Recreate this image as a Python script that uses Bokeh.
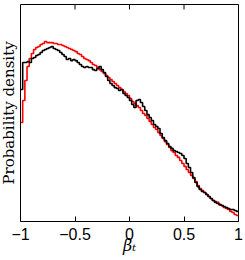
import numpy as np
from bokeh.plotting import figure
from bokeh.models import Range1d, FixedTicker
from bokeh.embed import file_html
from bokeh.resources import INLINE

# ---- data ----
x_min, x_max, n_bins = -1.0, 1.0, 100
x_ticks = [-1, -0.5, 0, 0.5, 1]
x_tick_labels = ["\u22121", "\u22120.5", "0", "0.5", "1"]
y_max = 1.2056

red_density = [
    0.550, 0.672, 0.783, 0.861, 0.906, 0.933, 0.956, 0.967, 0.972, 0.983,
    0.989, 1.000, 0.994, 0.994, 0.994, 0.989, 0.989, 0.983, 0.983, 0.978,
    0.972, 0.967, 0.961, 0.956, 0.950, 0.944, 0.933, 0.928, 0.917, 0.906,
    0.900, 0.894, 0.883, 0.872, 0.867, 0.856, 0.844, 0.833, 0.822, 0.811,
    0.800, 0.789, 0.778, 0.767, 0.756, 0.744, 0.733, 0.722, 0.711, 0.700,
    0.683, 0.667, 0.656, 0.644, 0.633, 0.617, 0.600, 0.589, 0.572, 0.556,
    0.539, 0.522, 0.511, 0.494, 0.478, 0.461, 0.444, 0.428, 0.411, 0.394,
    0.383, 0.367, 0.356, 0.339, 0.322, 0.306, 0.289, 0.272, 0.256, 0.239,
    0.222, 0.200, 0.183, 0.172, 0.161, 0.150, 0.139, 0.128, 0.117, 0.111,
    0.106, 0.094, 0.089, 0.078, 0.072, 0.067, 0.056, 0.050, 0.039, 0.033,
]

black_density = [
    0.733, 0.883, 0.883, 0.889, 0.883, 0.906, 0.911, 0.922, 0.928, 0.939,
    0.950, 0.956, 0.961, 0.967, 0.972, 0.961, 0.956, 0.950, 0.939, 0.928,
    0.917, 0.900, 0.906, 0.894, 0.900, 0.894, 0.883, 0.872, 0.861, 0.856,
    0.861, 0.856, 0.856, 0.844, 0.839, 0.850, 0.861, 0.844, 0.828, 0.806,
    0.783, 0.767, 0.756, 0.744, 0.739, 0.728, 0.733, 0.711, 0.700, 0.689,
    0.672, 0.650, 0.633, 0.672, 0.678, 0.661, 0.639, 0.617, 0.594, 0.578,
    0.561, 0.539, 0.528, 0.517, 0.489, 0.467, 0.450, 0.433, 0.417, 0.406,
    0.394, 0.389, 0.383, 0.378, 0.367, 0.350, 0.322, 0.300, 0.272, 0.244,
    0.217, 0.194, 0.178, 0.167, 0.161, 0.150, 0.139, 0.128, 0.117, 0.106,
    0.100, 0.094, 0.089, 0.083, 0.078, 0.072, 0.067, 0.067, 0.061, 0.056,
]

edges = np.linspace(x_min, x_max, n_bins + 1)

W, H = 249, 259
p = figure(
    width=W, height=H,
    x_range=Range1d(x_min, x_max), y_range=Range1d(0, y_max),
    output_backend="svg", toolbar_location=None,
    min_border_left=26, min_border_right=5, min_border_top=4, min_border_bottom=38,
    styles={"margin-left": "-6px"},
)
p.background_fill_color = "white"
p.border_fill_color = "white"
p.outline_line_color = "black"
p.outline_line_width = 1
p.grid.visible = False

ya = p.yaxis[0]
ya.ticker = FixedTicker(ticks=[])
ya.minor_tick_line_color = None
ya.major_tick_line_color = None
ya.axis_line_color = None
ya.axis_label = "Probability density"
ya.axis_label_standoff = 3
ya.axis_label_text_font = "DejaVu Serif"
ya.axis_label_text_font_style = "normal"
ya.axis_label_text_font_size = "15px"
ya.axis_label_text_color = "black"

xa = p.xaxis[0]
xa.ticker = FixedTicker(ticks=x_ticks)
xa.major_label_overrides = {t: l for t, l in zip(x_ticks, x_tick_labels)}
xa.major_tick_in = 5
xa.major_tick_out = 0
xa.major_tick_line_color = "black"
xa.minor_tick_line_color = None
xa.axis_line_color = None
xa.major_label_standoff = 6
xa.major_label_text_font = "Liberation Sans"
xa.major_label_text_font_size = "16px"
xa.major_label_text_color = "black"
xa.axis_label = "\u03b2\u209c"
xa.axis_label_standoff = -7
xa.axis_label_text_font = "DejaVu Serif"
xa.axis_label_text_font_style = "italic"
xa.axis_label_text_font_size = "16px"
xa.axis_label_text_color = "black"

# top-edge tick marks pointing into the frame
tick_len = y_max * 5 / 217.0
p.segment(x0=x_ticks, y0=[y_max] * len(x_ticks), x1=x_ticks,
          y1=[y_max - tick_len] * len(x_ticks), line_color="black", line_width=1)

p.step(edges, np.append(red_density, red_density[-1]), mode="after",
       line_color="#ff0000", line_width=1.6)
p.step(edges, np.append(black_density, black_density[-1]), mode="after",
       line_color="black", line_width=1.6)

open("out.html", "w").write(file_html(p, INLINE))
